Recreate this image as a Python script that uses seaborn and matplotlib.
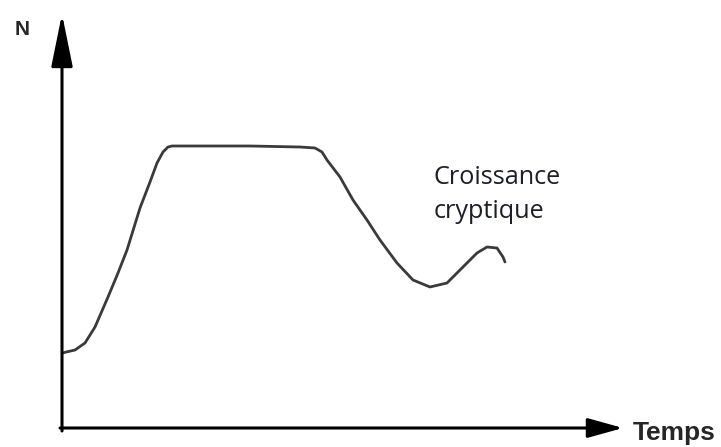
import matplotlib
matplotlib.use("Agg")
import matplotlib.pyplot as plt
import seaborn as sns
import pandas as pd

# =========================================================
# DATA (growth curve)
# =========================================================

temps = [0, 13, 23, 33, 46, 56, 65, 78, 88, 95, 101, 106, 110, 188, 238,
         253, 260, 265, 278, 291, 305, 318, 335, 351, 368, 385, 398, 415,
         425, 435, 441, 443]
n_cells = [75, 78, 85, 101, 131, 155, 178, 220, 246, 265, 276, 281, 282,
           282, 281, 280, 276, 268, 251, 228, 208, 188, 165, 148, 141, 145,
           158, 175, 181, 180, 171, 166]

x_label = "Temps"
y_label = "N"
note_lines = ["Croissance", "cryptique"]

df = pd.DataFrame({"Temps": temps, "N": n_cells})

# =========================================================
# FIGURE
# =========================================================

sns.set_style("white")

fig = plt.figure(figsize=(7.21, 4.47), dpi=100)
ax = fig.add_axes([62 / 721, 19 / 447, 558 / 721, 410 / 447])

sns.lineplot(data=df, x="Temps", y="N", ax=ax, sort=False,
             color="#3a3a3a", linewidth=2,
             solid_joinstyle="round", solid_capstyle="round")

ax.set_xlim(0, 558)
ax.set_ylim(0, 410)
ax.set_xticks([])
ax.set_yticks([])
ax.set_xlabel("")
ax.set_ylabel("")
for s in ax.spines.values():
    s.set_visible(False)

# axis arrows
ax.annotate("", xy=(0, 414), xytext=(0, -3),
            arrowprops=dict(arrowstyle="-|>,head_length=2.7,head_width=0.55",
                            mutation_scale=12, lw=2.2, color="black",
                            shrinkA=0, shrinkB=0),
            annotation_clip=False)
ax.annotate("", xy=(561, 0), xytext=(-2, 0),
            arrowprops=dict(arrowstyle="-|>,head_length=1.8,head_width=0.5",
                            mutation_scale=12, lw=2.2, color="black",
                            shrinkA=0, shrinkB=0),
            annotation_clip=False)

fig.text(15 / 721, 1 - 35 / 447, y_label, fontsize=15, fontweight="bold",
         family="Liberation Sans", ha="left", va="baseline")
fig.text(633 / 721, 1 - 440 / 447, x_label, fontsize=19, fontweight="bold",
         family="Liberation Sans", ha="left", va="baseline")

# annotation, one line at a time
for i, line in enumerate(note_lines):
    fig.text(434 / 721, 1 - (184 + 34 * i) / 447, line, fontsize=18.2,
             color="#1e1e28", family="Open Sans", ha="left", va="baseline")

plt.savefig("out.png", dpi=100)
